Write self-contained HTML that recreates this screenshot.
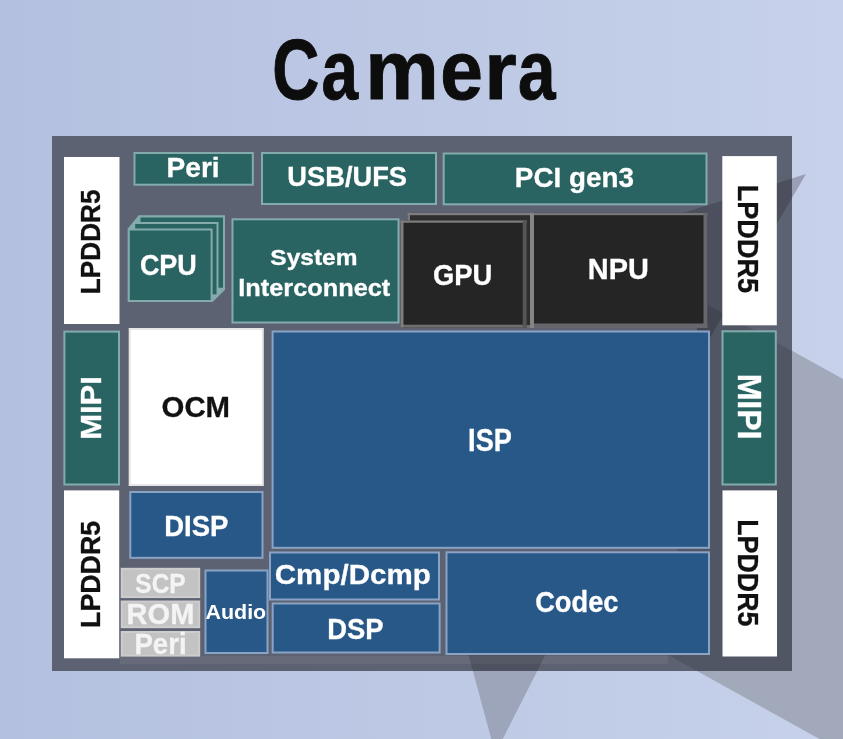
<!DOCTYPE html>
<html><head><meta charset="utf-8"><style>
html,body{margin:0;padding:0;width:843px;height:739px;overflow:hidden;background:linear-gradient(to right,#b3c0df,#c7d1ea);}
svg{display:block;filter:blur(0.5px);}
text{font-family:"Liberation Sans",sans-serif;font-weight:bold;}
</style></head><body>
<svg width="843" height="739" viewBox="0 0 843 739">
<defs><clipPath id="fr"><rect x="52" y="136" width="740" height="535"/></clipPath><clipPath id="brd"><rect x="777" y="136" width="15" height="535"/><rect x="52" y="655" width="740" height="16"/></clipPath></defs>
<polygon points="760,333 843,379 843,752 668,655" fill="#a2a9ba"/>
<polygon points="468.5,655 545.4,655 495.3,753.7" fill="#9da5bb"/>
<polygon points="806,174 683,213 700,355" fill="#9a9fb5"/>
<rect x="52" y="136" width="740.00" height="535.00" fill="#5d6273"/>
<rect x="120" y="656" width="548" height="8" fill="#666a79"/>
<g clip-path="url(#fr)"><polygon points="700,300.4 843,379 843,752 668,655" fill="#000" opacity="0.12"/><polygon points="468.5,655 545.4,655 495.3,753.7" fill="#000" opacity="0.16"/><polygon points="806,174 683,213 700,355" fill="#000" opacity="0.18"/></g>
<rect x="64" y="157" width="55.50" height="167.00" fill="#ffffff"/>
<rect x="133.5" y="152" width="120.30" height="33.70" fill="#83abac"/>
<rect x="135.5" y="154" width="116.30" height="29.70" fill="#2a6462"/>
<rect x="261" y="152" width="176.00" height="53.00" fill="#83abac"/>
<rect x="263" y="154" width="172.00" height="49.00" fill="#2a6462"/>
<rect x="442.7" y="152.5" width="264.80" height="52.80" fill="#83abac"/>
<rect x="444.7" y="154.5" width="260.80" height="48.80" fill="#2a6462"/>
<rect x="722.3" y="156.1" width="54.50" height="169.20" fill="#ffffff"/>
<polygon points="127.8,228.5 138.5,215.5 225,215.5 225,289.7 212.6,302 127.8,302" fill="#83abac"/>
<rect x="138.5" y="215.5" width="86.50" height="74.20" fill="#83abac"/>
<rect x="140.5" y="217.5" width="82.50" height="70.20" fill="#2a6462"/>
<rect x="133.2" y="222" width="85.30" height="74.30" fill="#83abac"/>
<rect x="135.2" y="224" width="81.30" height="70.30" fill="#2a6462"/>
<rect x="127.8" y="228.5" width="84.80" height="73.50" fill="#83abac"/>
<rect x="129.8" y="230.5" width="80.80" height="69.50" fill="#2a6462"/>
<rect x="231.5" y="218.3" width="168.00" height="105.20" fill="#83abac"/>
<rect x="233.5" y="220.3" width="164.00" height="101.20" fill="#2a6462"/>
<rect x="407.5" y="212.8" width="126.50" height="115.20" fill="#2e2e2e"/>
<rect x="407.5" y="212.8" width="126.50" height="2.4" fill="#7e7e7e"/>
<rect x="407.5" y="325.00" width="126.50" height="3" fill="#6e6e6e"/>
<rect x="407.5" y="212.8" width="2.4" height="115.20" fill="#7e7e7e"/>
<rect x="530.00" y="212.8" width="4" height="115.20" fill="#858585"/>
<rect x="400.5" y="220.5" width="126.20" height="107.00" fill="#252525"/>
<rect x="400.5" y="220.5" width="126.20" height="2.2" fill="#7e7e7e"/>
<rect x="400.5" y="324.70" width="126.20" height="2.8" fill="#6e6e6e"/>
<rect x="400.5" y="220.5" width="3" height="107.00" fill="#7e7e7e"/>
<rect x="522.70" y="220.5" width="4" height="107.00" fill="#555555"/>
<rect x="532" y="212.8" width="175.50" height="115.20" fill="#252525"/>
<rect x="532" y="212.8" width="175.50" height="2.4" fill="#767676"/>
<rect x="532" y="323.50" width="175.50" height="4.5" fill="#66676d"/>
<rect x="532" y="212.8" width="2" height="115.20" fill="#858585"/>
<rect x="703.50" y="212.8" width="4" height="115.20" fill="#66676d"/>
<rect x="63.4" y="330.6" width="56.60" height="154.90" fill="#83abac"/>
<rect x="65.4" y="332.6" width="52.60" height="150.90" fill="#2a6462"/>
<rect x="128.7" y="328" width="135.10" height="158.00" fill="#e6e6e6"/>
<rect x="130.7" y="330" width="131.10" height="154.00" fill="#ffffff"/>
<rect x="271.6" y="330.5" width="438.40" height="218.30" fill="#8aa3c4"/>
<rect x="273.6" y="332.5" width="434.40" height="214.30" fill="#275888"/>
<rect x="721.5" y="330.3" width="55.30" height="155.20" fill="#83abac"/>
<rect x="723.5" y="332.3" width="51.30" height="151.20" fill="#2a6462"/>
<rect x="64" y="490.4" width="55.20" height="167.90" fill="#ffffff"/>
<rect x="129.3" y="491" width="134.20" height="67.80" fill="#8aa3c4"/>
<rect x="131.3" y="493" width="130.20" height="63.80" fill="#275888"/>
<rect x="722.5" y="490.4" width="54.50" height="166.10" fill="#ffffff"/>
<rect x="120.7" y="567.8" width="79.50" height="30.30" fill="#cdcdcd"/>
<rect x="122.7" y="569.8" width="75.50" height="26.30" fill="#c3c3c3"/>
<rect x="120.7" y="600.5" width="79.50" height="27.70" fill="#cdcdcd"/>
<rect x="122.7" y="602.5" width="75.50" height="23.70" fill="#c3c3c3"/>
<rect x="120.7" y="631" width="79.50" height="25.60" fill="#cdcdcd"/>
<rect x="122.7" y="633" width="75.50" height="21.60" fill="#c3c3c3"/>
<rect x="204.5" y="569.5" width="64.00" height="84.50" fill="#8aa3c4"/>
<rect x="206.5" y="571.5" width="60.00" height="80.50" fill="#275888"/>
<rect x="269" y="551.5" width="171.00" height="49.00" fill="#8aa3c4"/>
<rect x="271" y="553.5" width="167.00" height="45.00" fill="#275888"/>
<rect x="271.7" y="602.5" width="168.90" height="51.00" fill="#8aa3c4"/>
<rect x="273.7" y="604.5" width="164.90" height="47.00" fill="#275888"/>
<rect x="445.5" y="551.3" width="264.50" height="103.70" fill="#8aa3c4"/>
<rect x="447.5" y="553.3" width="260.50" height="99.70" fill="#275888"/>
<text transform="translate(272.33,98.6) scale(0.7665,1)" font-size="85" fill="#0d0d0d" stroke="#0d0d0d" stroke-width="1">C</text>
<text transform="translate(321.48,98.6) scale(0.7956,1)" font-size="82.5" fill="#0d0d0d" stroke="#0d0d0d" stroke-width="1">a</text>
<text transform="translate(365.35,98.6) scale(1.0016,1)" font-size="82.5" fill="#0d0d0d" stroke="#0d0d0d" stroke-width="1">m</text>
<text transform="translate(440.21,98.6) scale(0.9287,1)" font-size="82.5" fill="#0d0d0d" stroke="#0d0d0d" stroke-width="1">e</text>
<text transform="translate(484.22,98.6) scale(1.0071,1)" font-size="82.5" fill="#0d0d0d" stroke="#0d0d0d" stroke-width="1">r</text>
<text transform="translate(518.12,98.6) scale(0.8184,1)" font-size="82.5" fill="#0d0d0d" stroke="#0d0d0d" stroke-width="1">a</text>
<text transform="translate(166.62,176.60) scale(1.0113,1)" font-size="27.76" fill="#fff" stroke="#fff" stroke-width="0.3">Peri</text>
<text transform="translate(287.36,185.50) scale(1.0142,1)" font-size="26.89" fill="#fff" stroke="#fff" stroke-width="0.3">USB/UFS</text>
<text transform="translate(514.84,186.60) scale(1.0023,1)" font-size="27.76" fill="#fff" stroke="#fff" stroke-width="0.3">PCI gen3</text>
<text transform="translate(139.89,274.60) scale(0.9279,1)" font-size="29.07" fill="#fff" stroke="#fff" stroke-width="0.3">CPU</text>
<text transform="translate(270.29,265.00) scale(1.0883,1)" font-size="22.53" fill="#fff" stroke="#fff" stroke-width="0.3">System</text>
<text transform="translate(238.31,296.00) scale(1.0562,1)" font-size="23.98" fill="#fff" stroke="#fff" stroke-width="0.3">Interconnect</text>
<text transform="translate(432.88,284.50) scale(0.9244,1)" font-size="29.65" fill="#fff" stroke="#fff" stroke-width="0.3">GPU</text>
<text transform="translate(587.77,279.00) scale(1.0038,1)" font-size="28.78" fill="#fff" stroke="#fff" stroke-width="0.3">NPU</text>
<text transform="translate(161.60,416.70) scale(0.9995,1)" font-size="29.36" fill="#111" stroke="#111" stroke-width="0.3">OCM</text>
<text transform="translate(468.08,450.60) scale(0.8746,1)" font-size="31.11" fill="#fff" stroke="#fff" stroke-width="0.3">ISP</text>
<text transform="translate(164.16,535.80) scale(0.9365,1)" font-size="29.36" fill="#fff" stroke="#fff" stroke-width="0.3">DISP</text>
<text transform="translate(135.29,592.70) scale(0.8791,1)" font-size="27.91" fill="#f4f4f4" stroke="#f4f4f4" stroke-width="0.3">SCP</text>
<text transform="translate(126.56,623.90) scale(0.9945,1)" font-size="29.22" fill="#f4f4f4" stroke="#f4f4f4" stroke-width="0.3">ROM</text>
<text transform="translate(134.46,653.75) scale(0.9553,1)" font-size="28.85" fill="#f4f4f4" stroke="#f4f4f4" stroke-width="0.3">Peri</text>
<text transform="translate(205.47,619.40) scale(1.0251,1)" font-size="20.93" fill="#fff" stroke="#fff" stroke-width="0">Audio</text>
<text transform="translate(274.79,584.00) scale(1.0647,1)" font-size="27.76" fill="#fff" stroke="#fff" stroke-width="0.3">Cmp/Dcmp</text>
<text transform="translate(327.17,638.70) scale(0.9574,1)" font-size="28.63" fill="#fff" stroke="#fff" stroke-width="0.3">DSP</text>
<text transform="translate(535.18,612.40) scale(0.8974,1)" font-size="30.38" fill="#fff" stroke="#fff" stroke-width="0.3">Codec</text>
<text transform="translate(99.50,294.15) rotate(-90) scale(0.9576,1)" font-size="27.33" fill="#111" stroke="#111" stroke-width="0.3">LPDDR5</text>
<text transform="translate(100.20,627.99) rotate(-90) scale(0.9458,1)" font-size="28.34" fill="#111" stroke="#111" stroke-width="0.3">LPDDR5</text>
<text transform="translate(101.30,439.87) rotate(-90) scale(1.0257,1)" font-size="30.23" fill="#fff" stroke="#fff" stroke-width="0.3">MIPI</text>
<text transform="translate(738.10,184.69) rotate(90) scale(0.9012,1)" font-size="30.09" fill="#111" stroke="#111" stroke-width="0.3">LPDDR5</text>
<text transform="translate(738.10,519.21) rotate(90) scale(0.8909,1)" font-size="30.09" fill="#111" stroke="#111" stroke-width="0.3">LPDDR5</text>
<text transform="translate(737.60,373.66) rotate(90) scale(0.9531,1)" font-size="33.58" fill="#fff" stroke="#fff" stroke-width="0.3">MIPI</text>
</svg>
</body></html>
